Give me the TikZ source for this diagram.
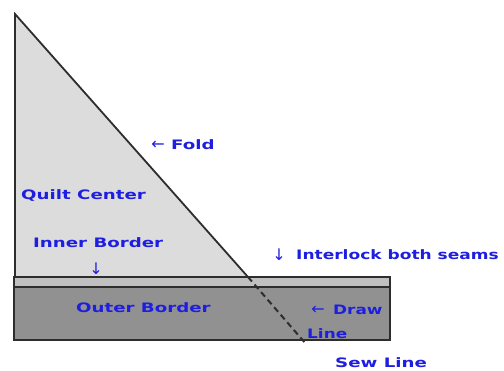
\documentclass[tikz,border=0pt]{standalone}
\usepackage{fontspec}
\setmainfont{DejaVu Sans}
\usepackage{graphicx}
\definecolor{lbl}{RGB}{30,30,225}
\definecolor{edge}{RGB}{45,45,45}
\definecolor{centerfill}{RGB}{220,220,220}
\definecolor{innerfill}{RGB}{192,192,192}
\definecolor{outerfill}{RGB}{145,145,145}
\tikzset{
  lab/.style={anchor=west, inner sep=0pt, text=lbl, font=\bfseries\fontsize{13}{13}\selectfont},
  arr/.style={anchor=center, inner sep=0pt, text=lbl, font=\fontsize{16}{16}\selectfont},
  shapeline/.style={draw=edge, line width=1.8pt, line join=miter},
}
\newcommand\wide[2][1.4]{\scalebox{#1}[1]{#2}}
\begin{document}
\begin{tikzpicture}[x=1pt,y=-1pt]
\fill[white] (0,0) rectangle (504,371);
\useasboundingbox (0,0) rectangle (504,371);
% outer border
\filldraw[shapeline, fill=outerfill] (14,287) rectangle (390,340);
% inner border strip
\filldraw[shapeline, fill=innerfill] (14,277) rectangle (390,287);
% quilt center triangle
\filldraw[shapeline, fill=centerfill] (15,14) -- (15,277) -- (248,277) -- cycle;
\coordinate (foldend) at (248,277);
\coordinate (sewend) at (306,344);
\draw[edge, line width=2pt, dash pattern=on 6pt off 4pt] (foldend) -- (sewend);
% labels
\node[arr] (foldarrow) at (158,145) {←};
\node[lab] (fold) at (171,145) {\wide{Fold}};
\node[lab] (quilt) at (21,196) {\wide{Quilt Center}};
\node[lab] (inner) at (33,243) {\wide{Inner Border}};
\node[arr] (innerarrow) at (96,269) {↓};
\node[lab] (outer) at (76,308) {\wide{Outer Border}};
\node[arr] (interarrow) at (279,255) {↓};
\node[lab] (inter) at (296,255) {\wide[1.31]{Interlock both seams}};
\node[arr] (drawarrow) at (318,310) {←};
\node[lab] (draw) at (333,310) {\wide[1.3]{Draw}};
\node[lab] (line) at (307,334) {\wide[1.3]{Line}};
\node[lab] (sew) at (335,363) {\wide{Sew Line}};
\end{tikzpicture}
\end{document}
